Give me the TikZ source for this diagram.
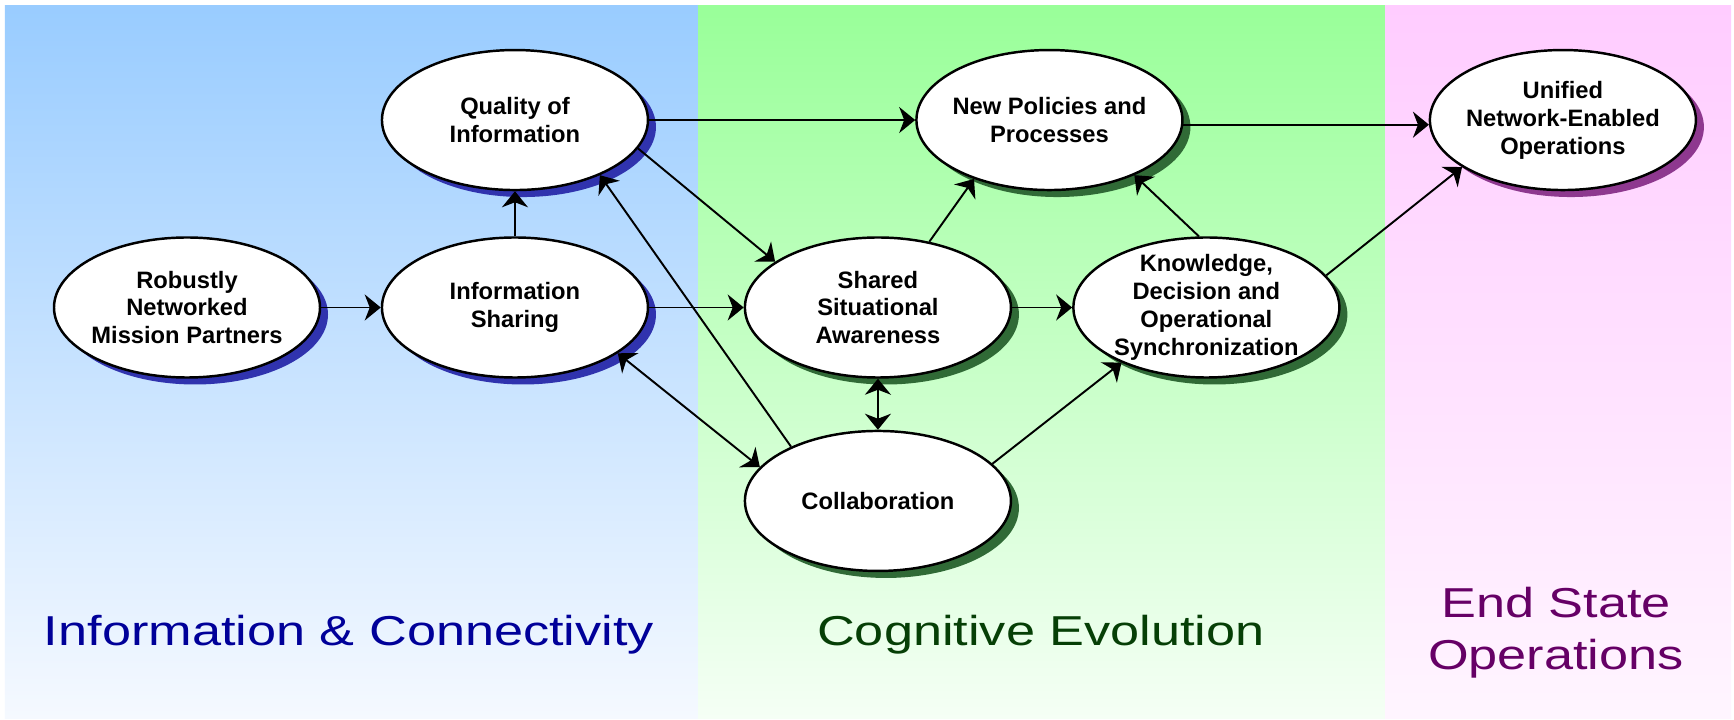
\documentclass[tikz,border=0pt]{standalone}
\usepackage{fontspec}
\setmainfont{Liberation Sans}
\newfontfamily\panelfont{Liberation Sans}[FakeStretch=1.25]
\usepackage{tikz}
\usetikzlibrary{positioning, arrows.meta,
shapes,
shadows % for the coloured drop shadows under the ellipses
}
\definecolor{bluetop}{HTML}{99CCFF}
\definecolor{bluebot}{HTML}{F5F9FF}
\definecolor{greentop}{HTML}{99FF99}
\definecolor{greenbot}{HTML}{F5FFF5}
\definecolor{pinktop}{HTML}{FFCCFF}
\definecolor{pinkbot}{HTML}{FFF5FF}
\definecolor{blueshade}{HTML}{3033AE}
\definecolor{greenshade}{HTML}{306A36}
\definecolor{pinkshade}{HTML}{8E388F}
\definecolor{bluetext}{HTML}{000099}
\definecolor{greentext}{HTML}{063F06}
\definecolor{pinktext}{HTML}{660066}
\tikzset{%
  every edge/.style={draw, ->, line width=1.1pt},
  >={Stealth[length=3.2mm, width=5.2mm, inset=1mm]}, % wide notched heads
  blob/.style={ellipse, draw, fill=white, line width=1.4pt,
    minimum width=5.32cm, minimum height=2.8cm,
    inner xsep=-2pt, inner ysep=-5pt, align=center,
    font=\fontsize{13.5}{15.9}\selectfont\bfseries},
  panellabel/.style={font=\panelfont\fontsize{23.8}{29.6}\selectfont, align=center}
}

\begin{document}
\begin{tikzpicture}[
  blueblob/.style={blob, drop shadow={shadow xshift=0.16cm, shadow yshift=-0.14cm, fill=blueshade, opacity=1}},
  greenblob/.style={blob, drop shadow={shadow xshift=0.16cm, shadow yshift=-0.14cm, fill=greenshade, opacity=1}},
  pinkblob/.style={blob, drop shadow={shadow xshift=0.16cm, shadow yshift=-0.14cm, fill=pinkshade, opacity=1}}]

\useasboundingbox[fill=white] (-3.74,6.15) rectangle (30.94,-8.23);
\shade[top color=bluetop, bottom color=bluebot] (-3.64,6.03) rectangle (10.22,-8.21);
\shade[top color=greentop, bottom color=greenbot] (10.22,6.03) rectangle (23.96,-8.21);
\shade[top color=pinktop, bottom color=pinkbot] (23.96,6.03) rectangle (30.88,-8.21);

\node[blueblob] (rob) at (0,0) {Robustly\\Networked\\Mission Partners};
\node[blueblob, right=1.19cm of rob] (share) {Information\\Sharing};
\node[blueblob, above=0.9cm of share] (qual) {Quality of\\Information};
\node[greenblob, right=1.89cm of share] (aware) {Shared\\Situational\\Awareness};
\node[greenblob, right=1.2cm of aware] (know) {Knowledge,\\Decision and\\Operational\\Synchronization};
\node[greenblob, below=1.02cm of aware] (collab) {Collaboration};
\node[greenblob, right=5.32cm of qual] (policy) {New Policies and\\Processes};
\node[pinkblob, right=4.9cm of policy] (unified) {Unified\\Network-Enabled\\Operations};

\draw (rob) edge (share);
\draw (share) edge (qual);
\draw (qual) edge (policy);
\draw (share) edge (aware);
\draw (aware) edge (know);
\draw (aware) edge[<->] (collab);
\draw (qual.-13) edge (aware.156);
\draw (collab.148) edge (qual.-33);
\draw (share.-24) edge[<->] (collab.164);
\draw (aware.52) edge (policy.218);
\draw (know.96) edge (policy.-33);
\draw (collab.18) edge (know.213);
\draw (policy.-2) edge (unified.182);
\draw (know.15) edge (unified.205);

\node[panellabel, text=bluetext, anchor=base] (infolabel) at (3.24,-6.75) {Information \& Connectivity};
\node[panellabel, text=greentext, anchor=base] (coglabel) at (17.08,-6.75) {Cognitive Evolution};
\node[panellabel, text=pinktext] (endlabel) at (27.38,-6.51) {End State\\Operations};
\end{tikzpicture}
\end{document}
